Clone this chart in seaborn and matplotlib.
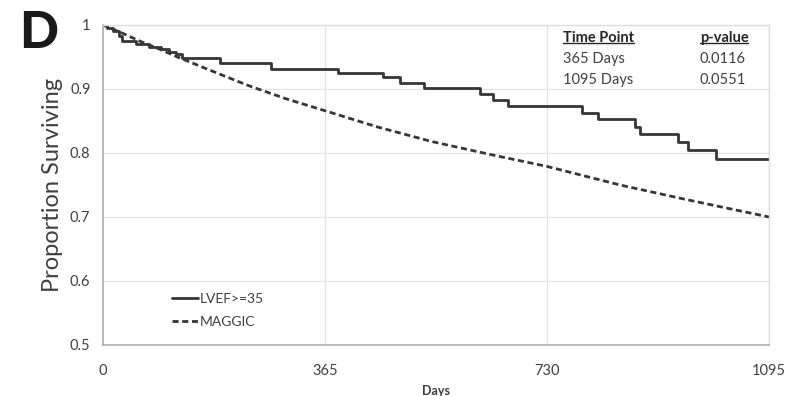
import matplotlib
matplotlib.use("Agg")
import matplotlib.pyplot as plt
import seaborn as sns
import pandas as pd
from matplotlib.lines import Line2D

# Kaplan-Meier estimate for the LVEF>=35 cohort (day of event, survival after event)
km_days = [0, 7, 17, 27, 31, 55, 75, 95, 108, 120, 130, 192, 277, 386, 460, 488,
           527, 620, 641, 666, 787, 814, 875, 883, 945, 961, 1008, 1095]
km_surv = [1.0, 0.995, 0.991, 0.983, 0.975, 0.970, 0.966, 0.962, 0.958, 0.954,
           0.949, 0.940, 0.932, 0.925, 0.918, 0.909, 0.901, 0.892, 0.883, 0.874,
           0.862, 0.853, 0.841, 0.829, 0.817, 0.804, 0.791, 0.791]

# MAGGIC-predicted survival
maggic_days = [0, 30, 60, 91, 120, 182, 240, 300, 365, 450, 540, 640, 730, 850, 960, 1095]
maggic_surv = [1.0, 0.988, 0.975, 0.963, 0.951, 0.927, 0.905, 0.885, 0.866, 0.841,
               0.818, 0.797, 0.779, 0.750, 0.727, 0.700]

x_ticks = [0, 365, 730, 1095]
y_ticks = [0.5, 0.6, 0.7, 0.8, 0.9, 1.0]
y_tick_labels = ["0.5", "0.6", "0.7", "0.8", "0.9", "1"]

table_header = ["Time Point", "p-value"]
table_points = ["365 Days", "1095 Days"]
table_pvalues = ["0.0116", "0.0551"]

sns.set_style("white")
plt.rcParams["font.family"] = ["Lato", "DejaVu Sans"]

km_df = pd.DataFrame({"Days": km_days, "Survival": km_surv})
mg_df = pd.DataFrame({"Days": maggic_days, "Survival": maggic_surv})

fig = plt.figure(figsize=(7.88, 3.96), dpi=100)
ax = fig.add_axes([0.1307, 0.1288, 0.8453, 0.8081])

line_col = "#363636"
sns.lineplot(data=km_df, x="Days", y="Survival", ax=ax, color=line_col,
             linewidth=2.0, drawstyle="steps-post", label="LVEF>=35")
sns.lineplot(data=mg_df, x="Days", y="Survival", ax=ax, color=line_col,
             linewidth=2.0, linestyle=(0, (2.2, 1.3)), label="MAGGIC")

ax.set_xlim(0, 1095)
ax.set_ylim(0.5, 1.0)
ax.set_xticks(x_ticks)
ax.set_xticklabels([str(t) for t in x_ticks])
ax.set_yticks(y_ticks)
ax.set_yticklabels(y_tick_labels)
ax.tick_params(axis="both", length=0, labelsize=10.5, labelcolor="#404040")
ax.tick_params(axis="x", pad=14)
ax.tick_params(axis="y", pad=9)

ax.grid(True, color="#e4e4e4", linewidth=0.9)
ax.set_axisbelow(True)
for side in ["top", "right"]:
    ax.spines[side].set_color("#dedede")
    ax.spines[side].set_linewidth(1.0)
for side in ["left", "bottom"]:
    ax.spines[side].set_color("#b0b0b0")
    ax.spines[side].set_linewidth(1.2)

ax.set_xlabel("Days", fontsize=9, fontweight="bold", color="#404040", labelpad=5)
ax.set_ylabel("Proportion Surviving", fontsize=17, color="#404040", labelpad=5)

# Panel letter
fig.text(0.024, 0.975, "D", fontsize=37, fontweight="black", color="#1a1a1a",
         ha="left", va="top")

# p-value table with underlined headers
tx1, tx2 = 0.7145, 0.888
ty = [0.905, 0.852, 0.799]
hdrs = []
for x0, s in zip([tx1, tx2], table_header):
    hdrs.append(fig.text(x0, ty[0], s, fontsize=10.5, fontweight="bold",
                         color="#262626", ha="left", va="center"))
for i in range(2):
    fig.text(tx1, ty[i + 1], table_points[i], fontsize=10.5, color="#404040",
             ha="left", va="center")
    fig.text(tx2, ty[i + 1], table_pvalues[i], fontsize=10.5, color="#404040",
             ha="left", va="center")

fig.canvas.draw()
renderer = fig.canvas.get_renderer()
inv = fig.transFigure.inverted()
for t in hdrs:
    bb = t.get_window_extent(renderer)
    (x0, y0), (x1, _) = inv.transform([[bb.x0, bb.y0], [bb.x1, bb.y1]])
    fig.add_artist(Line2D([x0, x1], [y0 + 0.004] * 2, color="#262626", linewidth=1.0))

ax.legend(loc="lower left", bbox_to_anchor=(0.085, 0.015), frameon=False,
          fontsize=10, handlelength=1.9, handletextpad=0.1,
          labelspacing=0.8, labelcolor="#404040")

fig.savefig("out.png", dpi=100)
